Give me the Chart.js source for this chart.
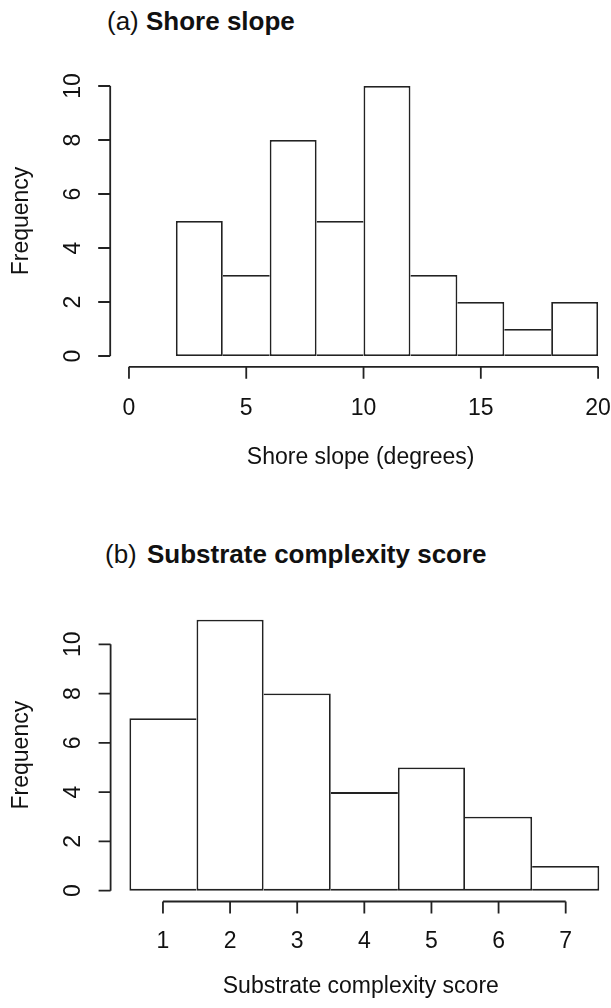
<!DOCTYPE html>
<html>
<head>
<meta charset="utf-8">
<script src="https://cdn.jsdelivr.net/npm/chart.js@4"></script>
<style>
  body { margin: 0; background: #fff; width: 611px; height: 1008px; position: relative; overflow: hidden; }
  .panel { position: absolute; left: 0; width: 611px; }
  .ttl { position: absolute; font: 26px "Liberation Sans", Arial, sans-serif; line-height: 26px; color: #111; white-space: nowrap; }
  .ttl b { font-weight: bold; }
</style>
</head>
<body>
<div class="ttl" style="left:107px; top:8px;">(a) <b>Shore slope</b></div>
<div class="panel" style="top:0; height:500px;"><canvas id="slopeChart" width="611" height="500"></canvas></div>
<div class="ttl" style="left:105px; top:541px;">(b)&nbsp;<b style="margin-left:3px">Substrate complexity score</b></div>
<div class="panel" style="top:520px; height:488px;"><canvas id="scoreChart" width="611" height="488"></canvas></div>
<script>
// histogram (a): bins of 2 degrees, given by their centres
const slopeBinCentres = [3, 5, 7, 9, 11, 13, 15, 17, 19];
const slopeFreq = [5, 3, 8, 5, 10, 3, 2, 1, 2];
const slopeXTicks = [0, 5, 10, 15, 20];

// histogram (b): one bin per score
const scoreCategories = [1, 2, 3, 4, 5, 6, 7];
const scoreFreq = [7, 11, 8, 4, 5, 3, 1];
const scoreXTicks = [1, 2, 3, 4, 5, 6, 7];

const freqTicks = [0, 2, 4, 6, 8, 10];

const FONT = '"Liberation Sans", Arial, sans-serif';
const INK = '#222';
const LW = 1.8;

// R-like axes: line only from first to last tick, offset below/left of the bars
const rAxes = {
    id: 'rAxes',
    afterDraw(chart) {
        const { ctx, chartArea: a, scales: { x, y } } = chart;
        const xp = x.ticks.map(t => x.getPixelForValue(t.value));
        const yp = y.ticks.map(t => y.getPixelForValue(t.value));
        ctx.save();
        ctx.strokeStyle = INK;
        ctx.lineWidth = LW;
        ctx.beginPath();
        ctx.moveTo(xp[0], a.bottom);
        ctx.lineTo(xp[xp.length - 1], a.bottom);
        xp.forEach(p => { ctx.moveTo(p, a.bottom); ctx.lineTo(p, a.bottom + 12); });
        ctx.moveTo(a.left, yp[0]);
        ctx.lineTo(a.left, yp[yp.length - 1]);
        yp.forEach(p => { ctx.moveTo(a.left, p); ctx.lineTo(a.left - 12, p); });
        ctx.stroke();
        ctx.restore();
    }
};

function histo(id, centres, freq, xTicks, xr, yr, xTitle, xh, tickPad, titlePad) {
    const last = centres.length - 1;
    // a shared edge between two bars is drawn by the taller one, as R does
    const edges = i => ({
        left: (i === 0 || freq[i - 1] < freq[i]) ? LW : 0,
        right: (i === last || freq[i + 1] <= freq[i]) ? LW : 0,
        top: LW,
        bottom: LW
    });
    return new Chart(document.getElementById(id), {
        type: 'bar',
        data: {
            datasets: [{
                data: centres.map((c, i) => ({ x: c, y: freq[i] })),
                backgroundColor: '#fff',
                borderColor: INK,
                borderWidth: ctx => edges(ctx.dataIndex),
                borderSkipped: false,
                barPercentage: 1,
                categoryPercentage: 1,
                inflateAmount: 0
            }]
        },
        options: {
            responsive: false,
            animation: false,
            layout: { padding: { top: yr.top, left: 0, right: 0, bottom: 0 } },
            plugins: { legend: { display: false }, tooltip: { enabled: false } },
            scales: {
                x: {
                    type: 'linear',
                    offset: false,
                    min: xr[0],
                    max: xr[1],
                    grid: { display: false, offset: false },
                    border: { display: false },
                    afterBuildTicks: s => { s.ticks = xTicks.map(v => ({ value: v })); },
                    afterFit: s => { s.height = xh; s.paddingLeft = 0; s.paddingRight = 0; },
                    ticks: { color: '#111', font: { family: FONT, size: 23 }, padding: tickPad, maxRotation: 0 },
                    title: { display: true, text: xTitle, color: '#111', font: { family: FONT, size: 23 }, padding: { top: 0, bottom: titlePad } }
                },
                y: {
                    min: yr.min,
                    max: yr.max,
                    grid: { display: false },
                    border: { display: false },
                    afterBuildTicks: s => { s.ticks = freqTicks.map(v => ({ value: v })); },
                    afterFit: s => { s.width = yr.left; s.paddingTop = 0; s.paddingBottom = 0; },
                    ticks: { color: '#111', font: { family: FONT, size: 23 }, padding: 16, minRotation: 90, maxRotation: 90, crossAlign: 'center' },
                    title: { display: true, text: 'Frequency', color: '#111', font: { family: FONT, size: 23 }, padding: { top: 8, bottom: 0 } }
                }
            }
        },
        plugins: [rAxes]
    });
}

histo('slopeChart', slopeBinCentres, slopeFreq, slopeXTicks, [-0.8, 20.55],
    { min: -0.4, max: 10.4, top: 75.2, left: 110.2 }, 'Shore slope (degrees)', 133.2, 20, 28.7);
histo('scoreChart', scoreCategories, scoreFreq, scoreXTicks, [0.22, 7.675],
    { min: -0.44, max: 11.44, top: 88.8, left: 110.6 }, 'Substrate complexity score', 106.5, 18, 8);
</script>
</body>
</html>
